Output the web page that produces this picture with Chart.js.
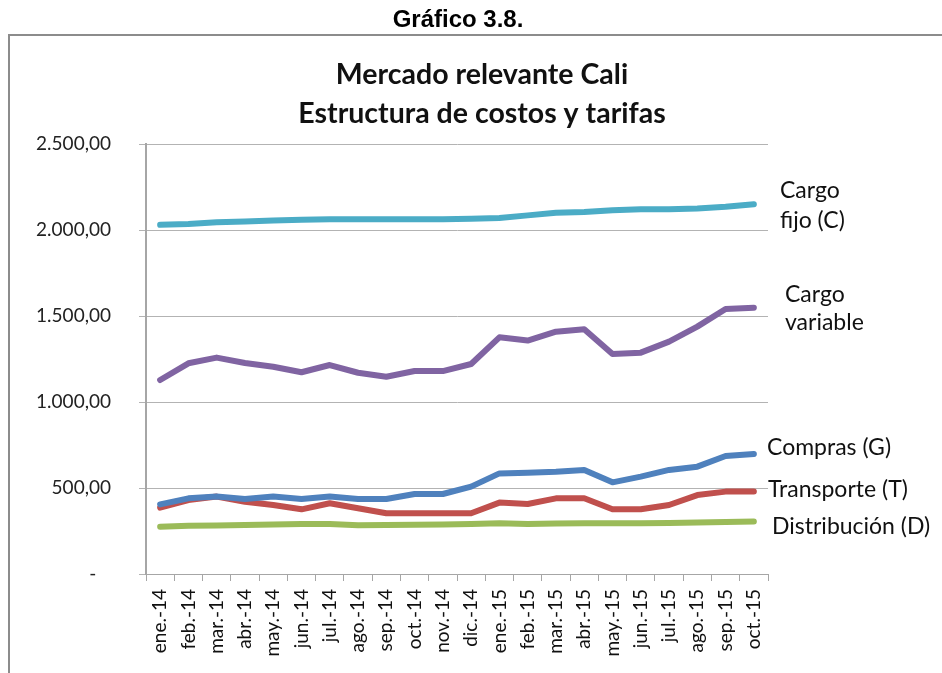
<!DOCTYPE html>
<html>
<head>
<meta charset="utf-8">
<script src="https://cdn.jsdelivr.net/npm/chart.js@4.4.1/dist/chart.umd.min.js"></script>
<style>
  html, body { margin: 0; padding: 0; background: #fff; }
</style>
</head>
<body>
<canvas id="costosChart" width="942" height="673"></canvas>
<script>
const months = ['ene.-14', 'feb.-14', 'mar.-14', 'abr.-14', 'may.-14', 'jun.-14', 'jul.-14', 'ago.-14', 'sep.-14', 'oct.-14', 'nov.-14', 'dic.-14',
  'ene.-15', 'feb.-15', 'mar.-15', 'abr.-15', 'may.-15', 'jun.-15', 'jul.-15', 'ago.-15', 'sep.-15', 'oct.-15'];

const cargoFijo = [2030, 2035, 2045, 2050, 2055, 2060, 2062, 2062, 2062, 2062, 2063, 2065, 2070, 2085, 2100, 2105, 2115, 2120, 2120, 2125, 2135, 2150];
const cargoVariable = [1128, 1225, 1258, 1227, 1205, 1173, 1215, 1170, 1147, 1180, 1180, 1221, 1376, 1357, 1409, 1423, 1279, 1287, 1351, 1438, 1541, 1548];
const compras = [405, 440, 450, 436, 450, 436, 450, 436, 436, 465, 465, 508, 585, 589, 595, 605, 533, 566, 605, 624, 686, 698];
const transporte = [386, 430, 450, 420, 401, 376, 411, 382, 353, 353, 353, 353, 415, 407, 440, 440, 376, 376, 401, 459, 479, 479];
const distribucion = [275, 280, 282, 285, 288, 290, 290, 283, 285, 287, 288, 290, 295, 290, 293, 295, 295, 295, 297, 300, 303, 305];

const yTicks = [0, 500, 1000, 1500, 2000, 2500];

// etiquetas a la derecha de cada serie: [lineas, desplazamiento x, desplazamiento y de cada linea]
const seriesLabels = [
  { text: ['Cargo', 'fijo (C)'], data: cargoFijo, dx: 12, dy: [-14, 16] },
  { text: ['Cargo', 'variable'], data: cargoVariable, dx: 17, dy: [-13, 15] },
  { text: ['Compras (G)'], data: compras, dx: -1, dy: [-6] },
  { text: ['Transporte (T)'], data: transporte, dx: 0, dy: [-2] },
  { text: ['Distribución (D)'], data: distribucion, dx: 4, dy: [5] }
];

const FONT = 'Lato, "Open Sans", sans-serif';

function formatNum(v) {
  if (v === 0) return '-   ';
  const s = String(v);
  const withDots = s.replace(/\B(?=(\d{3})+(?!\d))/g, '.');
  return withDots + ',00';
}

const decorPlugin = {
  id: 'decor',
  beforeDraw(chart) {
    const ctx = chart.ctx;
    ctx.save();
    ctx.fillStyle = '#fff';
    ctx.fillRect(0, 0, chart.width, chart.height);
    ctx.strokeStyle = '#8c8c8c';
    ctx.lineWidth = 2;
    ctx.strokeRect(9, 35, 950, 660);
    ctx.restore();
  },
  afterDraw(chart) {
    const ctx = chart.ctx;
    const area = chart.chartArea;
    const y = chart.scales.y;
    ctx.save();
    ctx.fillStyle = '#000';
    ctx.textAlign = 'center';
    ctx.textBaseline = 'middle';
    ctx.font = 'bold 24px "Liberation Sans", Arial, sans-serif';
    ctx.fillText('Gráfico 3.8.', 458, 20);

    ctx.fillStyle = '#111';
    ctx.font = 'bold 28.5px ' + FONT;
    ctx.fillText('Mercado relevante Cali', 482, 75);
    ctx.fillText('Estructura de costos y tarifas', 482, 114);

    ctx.font = '23px ' + FONT;
    ctx.textAlign = 'left';
    seriesLabels.forEach(lbl => {
      const last = lbl.data[lbl.data.length - 1];
      const py = y.getPixelForValue(last);
      lbl.text.forEach((t, i) => {
        ctx.fillText(t, area.right + lbl.dx, py + lbl.dy[i]);
      });
    });
    ctx.restore();
  }
};

function makeLine(label, data, color) {
  return {
    label: label,
    data: data,
    borderColor: color,
    backgroundColor: color,
    borderWidth: 6,
    pointRadius: 0,
    borderCapStyle: 'round',
    borderJoinStyle: 'round',
    tension: 0,
    fill: false
  };
}

const ctx = document.getElementById('costosChart').getContext('2d');
new Chart(ctx, {
  type: 'line',
  data: {
    labels: months,
    datasets: [
      makeLine('Cargo fijo (C)', cargoFijo, '#4BACC6'),
      makeLine('Cargo variable', cargoVariable, '#8064A2'),
      makeLine('Compras (G)', compras, '#4F81BD'),
      makeLine('Transporte (T)', transporte, '#C0504D'),
      makeLine('Distribución (D)', distribucion, '#9BBB59')
    ]
  },
  options: {
    responsive: false,
    animation: false,
    devicePixelRatio: 1,
    layout: { padding: { left: 0, top: 144, right: 174, bottom: 0 } },
    plugins: {
      legend: { display: false },
      tooltip: { enabled: false }
    },
    scales: {
      x: {
        offset: true,
        grid: { drawOnChartArea: false, offset: true, tickLength: 7, color: '#a6a6a6' },
        border: { color: '#a6a6a6', width: 1 },
        ticks: {
          minRotation: 90,
          maxRotation: 90,
          autoSkip: false,
          padding: 8,
          color: '#111',
          font: { family: FONT, size: 19 }
        },
        afterFit(scale) { scale.height = 99; }
      },
      y: {
        min: 0,
        max: 2500,
        afterBuildTicks(scale) { scale.ticks = yTicks.map(v => ({ value: v })); },
        grid: { color: '#b3b3b3', tickLength: 7 },
        border: { color: '#a6a6a6', width: 2 },
        ticks: {
          padding: 28,
          color: '#222',
          font: { family: FONT, size: 19 },
          callback: v => formatNum(v)
        },
        afterFit(scale) { scale.width = 146; }
      }
    }
  },
  plugins: [decorPlugin]
});
</script>
</body>
</html>
